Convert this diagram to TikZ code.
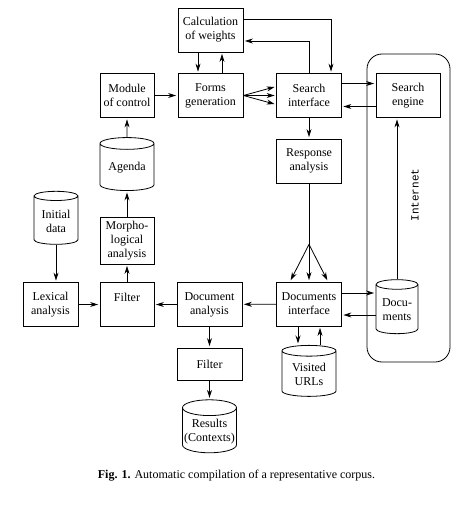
\documentclass[tikz,border=0pt]{standalone}
\usepackage{fontspec}
\setmainfont{Liberation Serif}
\newfontfamily\netfont{Liberation Mono}
\usetikzlibrary{positioning,shapes.geometric,arrows.meta}

\begin{document}
\begin{tikzpicture}[shorten >=1.5pt, node distance = 3cm,on grid,line width=0.8pt,
    >={Stealth[length=8pt,width=5pt]},
    font=\fontsize{12pt}{14pt}\selectfont,
    block/.style={draw,rectangle,align=center,minimum width=65pt,minimum height=44pt,inner sep=1pt},
    smallblock/.style={block,minimum width=54pt},
    store/.style={draw,cylinder,shape border rotate=90,aspect=0.3,align=center,
        minimum width=54pt,minimum height=53pt,inner sep=1pt}]
    \useasboundingbox (-210.5pt,95.5pt) rectangle (264.5pt,-418.5pt);

    \node[block] (forms) {Forms\\generation};
    \node[block] (calc) [above=65.5pt of forms] {Calculation\\of weights};
    \node[smallblock] (module) [left=83.5pt of forms] {Module\\of control};
    \node[block] (search) [right=98.5pt of forms] {Search\\interface};
    \node[block,minimum width=64pt] (engine) [right=99pt of search] {Search\\engine};
    \node[block] (response) [below=65.5pt of search] {Response\\analysis};
    \node[store] (agenda) [below=72.5pt of module] {Agenda};
    \node[smallblock,minimum height=47pt] (morph) [below=72.5pt of agenda] {Morpho-\\logical\\analysis};
    \node[smallblock] (filter) [below=64pt of morph] {Filter\\\mbox{}};
    \node[smallblock,minimum width=55pt] (lexical) [left=76.5pt of filter] {Lexical\\analysis};
    \node[store,minimum width=44pt] (initial) [above right=83.5pt and 5.5pt of lexical] {Initial\\data};
    \node[block] (docana) [right=82.5pt of filter] {Document\\analysis};
    \node[block] (docint) [below=143pt of response] {Documents\\interface};
    \node[store,minimum width=42pt,minimum height=54pt] (documents) [below right=6pt and 88pt of docint] {Docu-\\ments};
    \node[store,minimum height=51pt] (visited) [below=70.5pt of docint] {Visited\\URLs};
    \node[block,minimum height=32pt] (filter2) [below=59.5pt of docana] {Filter};
    \node[store] (results) [below=67.5pt of filter2] {Results\\(Contexts)};
    \node[draw,rounded corners=15pt,minimum width=83pt,minimum height=308pt] (internet) [below right=112.5pt and 0.5pt of engine] {};
    \coordinate[above right=13pt and 6.5pt of internet.center] (netpos);
    \node[rotate=90,font=\netfont\fontsize{11pt}{13pt}\selectfont] (netlabel) at (netpos) {Internet};
    \node (caption) [below right=44.5pt and 27pt of results] {\textbf{Fig. 1.} Automatic compilation of a representative corpus.};
    \coordinate[below=61pt of response.south] (fork);

    \draw[->] ([yshift=11pt]calc.east) -| ([xshift=22pt]search.north);
    \draw[->] (search.north) |- ([yshift=-11pt]calc.east);
    \draw[shorten >=0pt] (response) -- (fork);

    \path[->]
    ([xshift=-12.5pt]calc.south) edge ([xshift=-12.5pt]forms.north)
    ([xshift=11.5pt]forms.north) edge ([xshift=11.5pt]calc.south)
    (module) edge (forms)
    (forms.east) edge ([yshift=9pt]search.west)
    (forms.east) edge (search.west)
    (forms.east) edge ([yshift=-9pt]search.west)
    ([yshift=12pt]search.east) edge ([yshift=12pt]engine.west)
    ([yshift=-11pt]engine.west) edge ([yshift=-11pt]search.east)
    (search) edge (response)
    (documents.north) edge (documents.north |- engine.south)
    (fork) edge ([xshift=-19pt]docint.north)
    (fork) edge (docint)
    (fork) edge ([xshift=19pt]docint.north)
    ([yshift=11pt]docint.east) edge ([yshift=11pt]docint.east -| documents.west)
    ([yshift=-11pt]docint.east -| documents.west) edge ([yshift=-11pt]docint.east)
    (docint) edge (docana)
    ([xshift=-11pt]docint.south) edge ([xshift=-11pt]docint.south |- visited.north)
    ([xshift=11pt]docint.south |- visited.north) edge ([xshift=11pt]docint.south)
    (docana) edge (filter)
    (lexical) edge (filter)
    (filter) edge (morph)
    (morph) edge (agenda)
    (agenda) edge (module)
    (initial) edge (initial |- lexical.north)
    (docana) edge (filter2)
    (filter2) edge (results);
\end{tikzpicture}
\end{document}
